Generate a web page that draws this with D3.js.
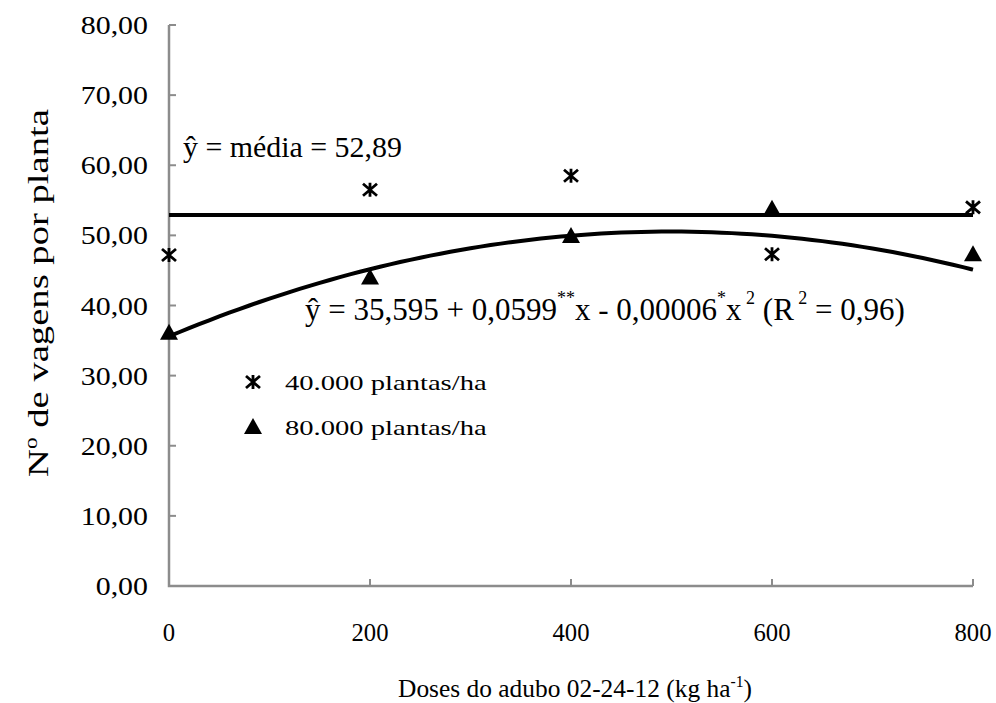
<!DOCTYPE html>
<html>
<head>
<meta charset="utf-8">
<script src="https://cdn.jsdelivr.net/npm/d3@7"></script>
</head>
<body style="margin:0">
<svg id="chart" width="996" height="703"></svg>
<script>
// doses (kg/ha)
var doses = [0, 200, 400, 600, 800];
var plantas40 = [47.2, 56.5, 58.5, 47.3, 54.0];  // 40.000 plantas/ha
var plantas80 = [36.1, 44.0, 49.9, 53.8, 47.3];  // 80.000 plantas/ha
var media40 = 52.89;
var coef80 = [35.595, 0.0599, -0.00006];          // regression for 80.000
var yTicks = [0, 10, 20, 30, 40, 50, 60, 70, 80];
var xTicks = [0, 200, 400, 600, 800];

var svg = d3.select('#chart');
var xs = d3.scaleLinear().domain([0, 800]).range([169, 973]);
var ys = d3.scaleLinear().domain([0, 80]).range([586, 25]);
var fmt = function (v) { return d3.format('.2f')(v).replace('.', ','); };

// text placed at x,y; stretched horizontally to a given width (or by sx)
function label(x, y, size, anchor, opts) {
    opts = opts || {};
    var g = svg.append('g').attr('transform', 'translate(' + x + ',' + y + ')' + (opts.rotate ? ' rotate(' + opts.rotate + ')' : ''));
    var t = g.append('text')
        .attr('font-family', 'Liberation Serif')
        .style('font-family', "'Liberation Serif', serif")
        .attr('font-size', size).attr('text-anchor', anchor).attr('fill', '#000');
    t.fit = function () {
        var sx = opts.sx || 1;
        if (opts.width) sx = opts.width / t.node().getBBox().width;
        t.attr('transform', 'scale(' + sx + ',1)');
        return t;
    };
    return t;
}

// axes (gray frame on left and bottom, ticks pointing inward)
var axisCol = '#8c8c8c';
svg.append('path')
    .attr('d', 'M' + xs(0) + ',' + ys(80) + 'V' + ys(0) + 'H' + xs(800))
    .attr('fill', 'none').attr('stroke', axisCol).attr('stroke-width', 2.5);
svg.selectAll('line.yt').data(yTicks).enter().append('line')
    .attr('x1', xs(0)).attr('x2', xs(0) + 7)
    .attr('y1', ys).attr('y2', ys)
    .attr('stroke', axisCol).attr('stroke-width', 2);
svg.selectAll('line.xt').data(xTicks).enter().append('line')
    .attr('x1', xs).attr('x2', xs)
    .attr('y1', ys(0)).attr('y2', ys(0) - 7)
    .attr('stroke', axisCol).attr('stroke-width', 2);

yTicks.forEach(function (d) {
    label(148, ys(d) + 9, 26, 'end', { sx: 1.15 }).text(fmt(d)).fit();
});
xTicks.forEach(function (d) {
    label(xs(d), 641, 26, 'middle', { sx: 0.95 }).text(d).fit();
});

// axis titles
var xt = label(575, 697, 26, 'middle', { width: 354 });
xt.append('tspan').text('Doses do adubo 02-24-12  (kg ha');
xt.append('tspan').attr('dy', -10).attr('font-size', 16).text('-1');
xt.append('tspan').attr('dy', 10).text(')');
xt.fit();

var yt = label(48, 293, 30, 'middle', { rotate: -90, width: 368 });
yt.append('tspan').text('N');
yt.append('tspan').attr('dy', -11).attr('font-size', 18).text('o');
yt.append('tspan').attr('dy', 11).text(' de vagens por planta');
yt.fit();

// mean line for 40.000
svg.append('line')
    .attr('x1', xs(0)).attr('x2', xs(800))
    .attr('y1', ys(media40)).attr('y2', ys(media40))
    .attr('stroke', '#000').attr('stroke-width', 4);

// quadratic fit for 80.000
var fitX = d3.range(0, 801, 10);
var fitLine = d3.line()
    .x(function (d) { return xs(d); })
    .y(function (d) { return ys(coef80[0] + coef80[1] * d + coef80[2] * d * d); })
    .curve(d3.curveBasis);
svg.append('path').datum(fitX).attr('d', fitLine)
    .attr('fill', 'none').attr('stroke', '#000').attr('stroke-width', 4);

// markers
function star(cx, cy) {
    var rx = 7, ry = 6;
    svg.append('path')
        .attr('d', 'M' + (cx - rx) + ',' + (cy - ry) + 'L' + (cx + rx) + ',' + (cy + ry) +
            'M' + (cx - rx) + ',' + (cy + ry) + 'L' + (cx + rx) + ',' + (cy - ry) +
            'M' + cx + ',' + (cy - ry - 1) + 'L' + cx + ',' + (cy + ry + 1))
        .attr('stroke', '#000').attr('stroke-width', 2.8).attr('fill', 'none');
}
function tri(cx, cy) {
    svg.append('path')
        .attr('d', 'M' + cx + ',' + (cy - 9) + 'L' + (cx + 9) + ',' + (cy + 7) + 'L' + (cx - 9) + ',' + (cy + 7) + 'Z')
        .attr('fill', '#000');
}
doses.forEach(function (d, i) {
    star(xs(d), ys(plantas40[i]));
    tri(xs(d), ys(plantas80[i]));
});

// annotations
label(183, 157, 30, 'start', { width: 219 }).text('ŷ = média = 52,89').fit();

var eq = label(305, 320, 31, 'start', { width: 600 });
eq.append('tspan').text('ŷ = 35,595 + 0,0599');
eq.append('tspan').attr('dy', -16).attr('font-size', 18).text('**');
eq.append('tspan').attr('dy', 16).text('x - 0,00006');
eq.append('tspan').attr('dy', -16).attr('font-size', 18).text('*');
eq.append('tspan').attr('dy', 16).text('x');
eq.append('tspan').attr('dy', -16).attr('font-size', 18).text(' 2');
eq.append('tspan').attr('dy', 16).text('  (R');
eq.append('tspan').attr('dy', -16).attr('font-size', 18).text(' 2');
eq.append('tspan').attr('dy', 16).text(' = 0,96)');
eq.fit();

// legend
star(253, 382);
label(285, 390, 22, 'start', { width: 202 }).text('40.000 plantas/ha').fit();
tri(253, 427);
label(285, 435, 22, 'start', { width: 202 }).text('80.000 plantas/ha').fit();
</script>
</body>
</html>
